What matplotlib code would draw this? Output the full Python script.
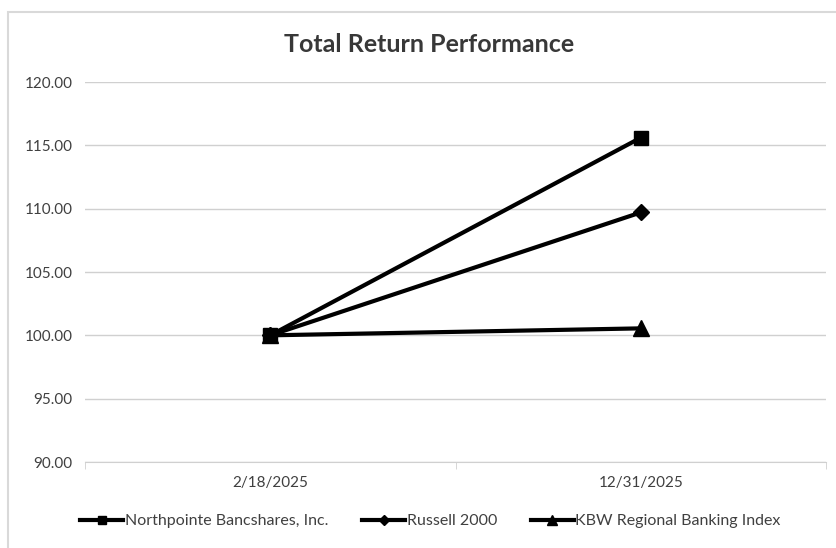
import matplotlib
matplotlib.use("Agg")
import matplotlib.pyplot as plt

dates = ["2/18/2025", "12/31/2025"]
northpointe = [100.0, 115.6]
russell = [100.0, 109.7]
kbw = [100.0, 100.55]
yticks = [90, 95, 100, 105, 110, 115, 120]

plt.rcParams['font.family'] = ['Lato', 'DejaVu Sans']

fig = plt.figure(figsize=(8.36, 5.48), dpi=100)
ax = fig.add_axes([85/836, 1-462/548, (826-85)/836, (462-82)/548])

x = list(range(len(dates)))
ax.plot(x, northpointe, color='black', lw=3, marker='s', ms=10, label='Northpointe Bancshares, Inc.', zorder=3)
ax.plot(x, russell, color='black', lw=3, marker='D', ms=8, label='Russell 2000', zorder=3)
ax.plot(x, kbw, color='black', lw=3, marker='^', ms=11, label='KBW Regional Banking Index', zorder=3)

ax.set_xlim(-0.5, 1.5)
ax.set_ylim(90, 120)
ax.set_yticks(yticks)
ax.set_yticklabels([f"{v:.2f}" for v in yticks], fontsize=11, color='#404040')
ax.set_xticks(x)
ax.set_xticklabels(dates, fontsize=11, color='#404040')
ax.set_xticks([-0.5, 0.5, 1.5], minor=True)
ax.tick_params(axis='x', which='major', length=0, pad=10)
ax.tick_params(axis='x', which='minor', length=5, color='#d0d0d0')
ax.tick_params(axis='y', length=0, pad=9)
ax.grid(axis='y', color='#d0d0d0', lw=1)
ax.set_axisbelow(True)
for s in ['top', 'right', 'left']:
    ax.spines[s].set_visible(False)
ax.spines['bottom'].set_color('#d0d0d0')

fig.text(0.513, 1-44/548, "Total Return Performance", ha='center', va='center',
         fontsize=18, fontweight='bold', color='#383838')

leg = fig.legend(loc='center', bbox_to_anchor=(0.515, 1-521/548), ncol=3, frameon=False,
                 fontsize=11.5, handlelength=2.7, columnspacing=2.1, handletextpad=0.1,
                 markerscale=0.6, labelcolor='#404040')

# chart area border
fig.add_artist(plt.Rectangle((8/836, -0.02), 1.0, 1-12/548+0.02, transform=fig.transFigure,
                             fill=False, edgecolor='#d9d9d9', lw=1.5))

fig.savefig("out.png", dpi=100, facecolor='white')
